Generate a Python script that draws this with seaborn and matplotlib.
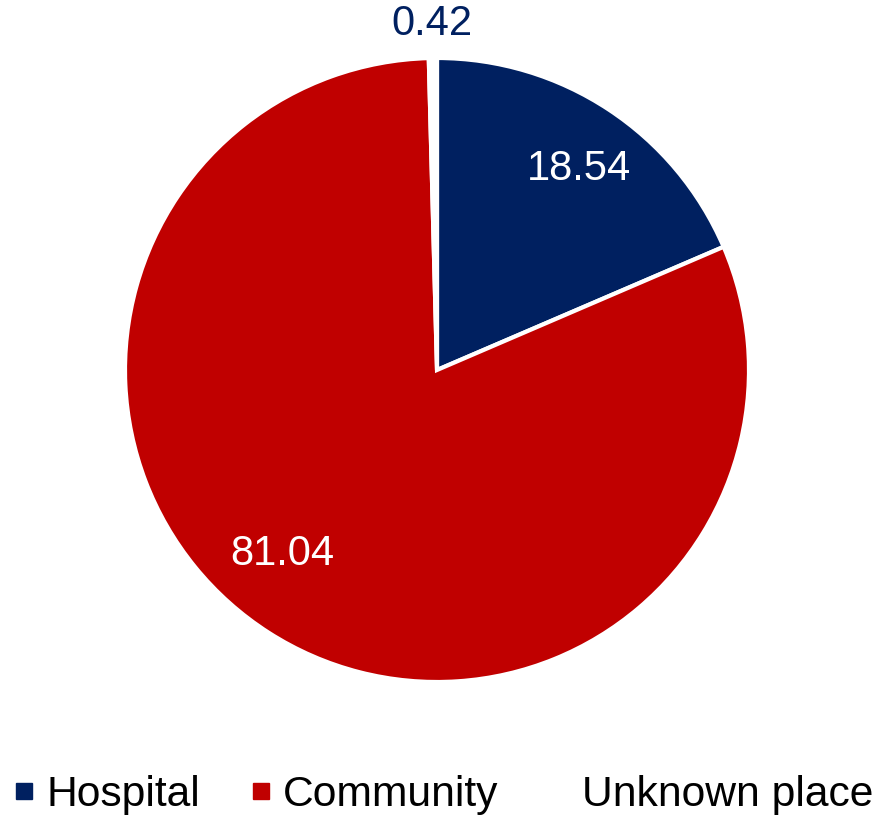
import numpy as np
import matplotlib
matplotlib.use("Agg")
import matplotlib.pyplot as plt
from matplotlib.lines import Line2D
import seaborn as sns

categories = ["Hospital", "Community", "Unknown place"]
values = [18.54, 81.04, 0.42]
colors = ["#002060", "#C00000", "#FFFFFF"]
label_colors = ["white", "white", "#002060"]
label_texts = ["18.54", "81.04", "0.42"]

sns.set_theme(style="white")
plt.rcParams["font.family"] = ["Liberation Sans", "DejaVu Sans"]
plt.rcParams["text.color"] = "black"

fig = plt.figure(figsize=(8.79, 8.16), dpi=100)
ax = fig.add_axes([125 / 879, 134 / 816, 624 / 879, 624 / 816])

wedges, _ = ax.pie(values, colors=colors, startangle=90, counterclock=False,
                   radius=1.0,
                   wedgeprops=dict(edgecolor="white", linewidth=3))
ax.set_xlim(-1, 1)
ax.set_ylim(-1, 1)
ax.set_aspect("equal")
ax.axis("off")

# label placements (angle offset deg, distance) relative to slice mid-angle
placements = [(-1.8, 0.788), (-7.5, 0.77), (0.0, 1.11)]
for w, txt, c, (off, dist) in zip(wedges, label_texts, label_colors, placements):
    mid = np.deg2rad((w.theta1 + w.theta2) / 2 + off)
    ax.text(dist * np.cos(mid), dist * np.sin(mid), txt, color=c,
            fontsize=30, ha="center", va="center", clip_on=False)

handles = [Line2D([0], [0], marker="s", linestyle="none", markersize=12,
                  markerfacecolor=col, markeredgecolor=col) for col in colors]
fig.legend(handles, categories, loc="center",
           bbox_to_anchor=(0.5 + 4 / 879, (816 - 795) / 816),
           ncol=3, frameon=False, fontsize=30.7, handlelength=0.45,
           handletextpad=0.3, columnspacing=1.2, borderaxespad=0,
           labelcolor="black")

fig.savefig("out.png", dpi=100)
